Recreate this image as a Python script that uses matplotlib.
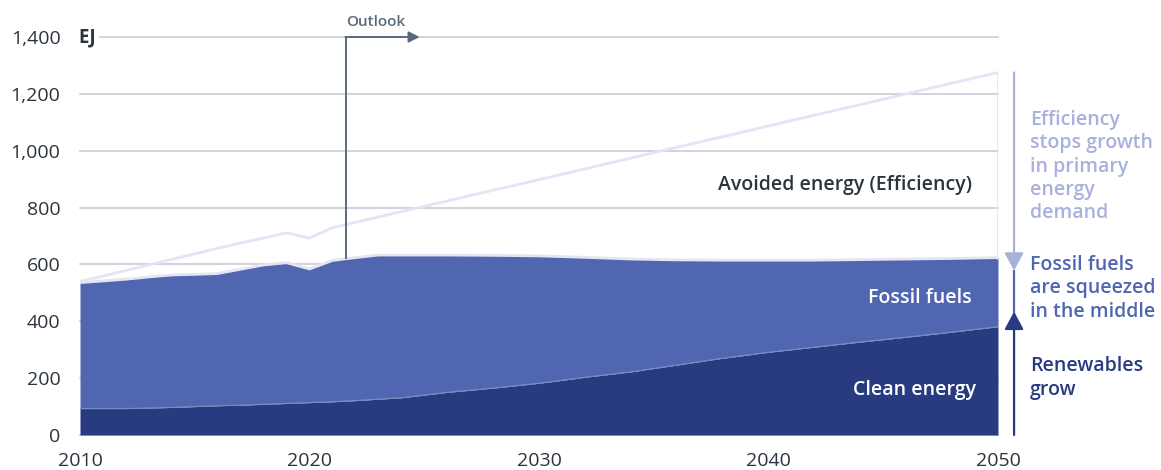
import matplotlib
matplotlib.use("Agg")
import matplotlib.pyplot as plt
from matplotlib import font_manager as fm
import numpy as np

plt.rcParams['font.family'] = ['Open Sans', 'DejaVu Sans']

years = [2010, 2011, 2012, 2013, 2014, 2015, 2016, 2017, 2018, 2019, 2020, 2021, 2022,
         2023, 2024, 2026, 2028, 2030, 2032, 2034, 2036, 2038, 2040, 2042, 2044, 2046,
         2048, 2050]
# Energy demand without efficiency gains (EJ)
baseline_total = [540, 559, 579, 598, 618, 637, 657, 675, 693, 711, 693, 729, 748,
                  767, 786, 823, 861, 898, 936, 974, 1012, 1049, 1087, 1125, 1162, 1200,
                  1238, 1275]
# Total primary energy (EJ) = clean + fossil
total_energy = [536, 542, 548, 556, 563, 565, 568, 583, 598, 606, 584, 614, 624,
                633, 633, 633, 632, 630, 625, 619, 616, 615, 615, 615, 617, 619,
                621, 624]
# Clean energy (EJ)
clean_energy = [93, 93, 93, 95, 97, 100, 103, 105, 108, 111, 114, 117, 121,
                126, 131, 150, 165, 182, 203, 222, 246, 270, 291, 309, 327, 344,
                362, 381]

y_ticks = [0, 200, 400, 600, 800, 1000, 1200, 1400]
y_tick_labels = ["0", "200", "400", "600", "800", "1,000", "1,200", "1,400"]
x_ticks = [2010, 2020, 2030, 2040, 2050]
x_tick_labels = ["2010", "2020", "2030", "2040", "2050"]

outlook_year = 2021.6
outlook_arrow_end = 2024.8

C_FOSSIL = "#5066b0"
C_CLEAN = "#283b80"
C_AVOID = "#e4e4f4"
C_LIGHT = "#a9b0dc"
C_TEXT = "#2b343c"
C_GRID = "#c3c8d4"
C_OUT = "#5a6a7e"

# find a semibold Open Sans file if present
semibold_file = None
for f in fm.findSystemFonts():
    name = f.lower().replace("-", "").replace("_", "").replace(" ", "")
    if "opensans" in name and "semibold" in name and "italic" not in name:
        semibold_file = f
        break

def sb(size):
    if semibold_file:
        return fm.FontProperties(fname=semibold_file, size=size)
    return fm.FontProperties(family=['Open Sans', 'DejaVu Sans'], weight='semibold', size=size)

W, H = 1161, 470
fig = plt.figure(figsize=(W / 100, H / 100), dpi=100)
ax = fig.add_axes([80 / W, 1 - 435 / H, (998 - 80) / W, (435 - 37) / H])
ax.set_xlim(2010, 2050)
ax.set_ylim(0, 1400)

yrs = np.array(years, dtype=float)
tot = np.array(total_energy, dtype=float)
cln = np.array(clean_energy, dtype=float)
base = np.array(baseline_total, dtype=float)

# gridlines
for v in y_ticks:
    xmin = 0.0 if v != 1400 else 0.022
    ax.axhline(v, xmin=xmin, xmax=1.0, color=C_GRID, lw=1.1, zorder=0, clip_on=False)

# areas
ax.fill_between(yrs, 0, cln, color=C_CLEAN, lw=0, zorder=2)
ax.fill_between(yrs, cln, tot, color=C_FOSSIL, lw=0, zorder=2)
ax.plot(yrs, cln, color="#7d8cc4", lw=0.8, zorder=3)
# avoided energy outline
ax.plot(yrs, base, color=C_AVOID, lw=2, zorder=3, solid_capstyle='butt')
ax.plot(yrs, tot, color=C_AVOID, lw=2, zorder=3)
ax.plot([yrs[-1], yrs[-1]], [tot[-1], base[-1]], color=C_AVOID, lw=2, zorder=3)

# outlook marker
ax.plot([outlook_year, outlook_year], [622, 1400], color=C_OUT, lw=1.4, zorder=4, clip_on=False)
ax.annotate("", xy=(outlook_arrow_end, 1400), xytext=(outlook_year - 0.03, 1400),
            arrowprops=dict(arrowstyle="-|>,head_length=6.5,head_width=3.3", color=C_OUT,
                            lw=1.4, shrinkA=0, shrinkB=0, mutation_scale=1),
            annotation_clip=False, zorder=4)
ax.text(outlook_year - 0.02, 1400 + 52, "Outlook", ha="left", va="center",
        fontproperties=sb(11), color=C_OUT, clip_on=False)

# EJ label
ax.text(2009.92, 1400, "EJ", ha="left", va="center", fontsize=13.5, fontweight="bold",
        color=C_TEXT, clip_on=False)

# ticks
ax.set_yticks(y_ticks, y_tick_labels)
ax.set_xticks(x_ticks, x_tick_labels)
ax.tick_params(axis="y", length=0, pad=14, labelsize=14, labelcolor=C_TEXT)
ax.tick_params(axis="x", length=0, pad=12, labelsize=14, labelcolor=C_TEXT)
for s in ax.spines.values():
    s.set_visible(False)
ax.patch.set_alpha(0)

# area labels
ax.text(2048.87, 879, "Avoided energy (Efficiency)", ha="right", va="center",
        fontproperties=sb(14), color=C_TEXT, zorder=5)
ax.text(2048.87, 482, "Fossil fuels", ha="right", va="center",
        fontproperties=sb(14), color="white", zorder=5)
ax.text(2049.04, 158, "Clean energy", ha="right", va="center",
        fontproperties=sb(14), color="white", zorder=5)

# right-hand arrows
ax_x = 2050.7
ax.annotate("", xy=(ax_x, 578), xytext=(ax_x, 1275),
            arrowprops=dict(arrowstyle="-|>,head_length=10.8,head_width=5.8", color=C_LIGHT,
                            lw=1.6, shrinkA=0, shrinkB=0, mutation_scale=1),
            annotation_clip=False)
ax.plot([ax_x, ax_x], [434, 578], color=C_FOSSIL, lw=1.6, clip_on=False)
ax.annotate("", xy=(ax_x, 434), xytext=(ax_x, 0),
            arrowprops=dict(arrowstyle="-|>,head_length=10.8,head_width=5.8", color=C_CLEAN,
                            lw=1.6, shrinkA=0, shrinkB=0, mutation_scale=1),
            annotation_clip=False)

def right_text(lines, ys, color):
    for line, yp in zip(lines, ys):
        fig.text(1030 / W, 1 - yp / H, line, ha="left", va="center",
                 fontproperties=sb(14), color=color)

right_text(["Efficiency", "stops growth", "in primary", "energy", "demand"],
           [120, 143, 167, 190, 213], C_LIGHT)
right_text(["Fossil fuels", "are squeezed", "in the middle"], [265, 288, 312], C_FOSSIL)
right_text(["Renewables", "grow"], [366, 390], C_CLEAN)

fig.savefig("out.png", dpi=100)
